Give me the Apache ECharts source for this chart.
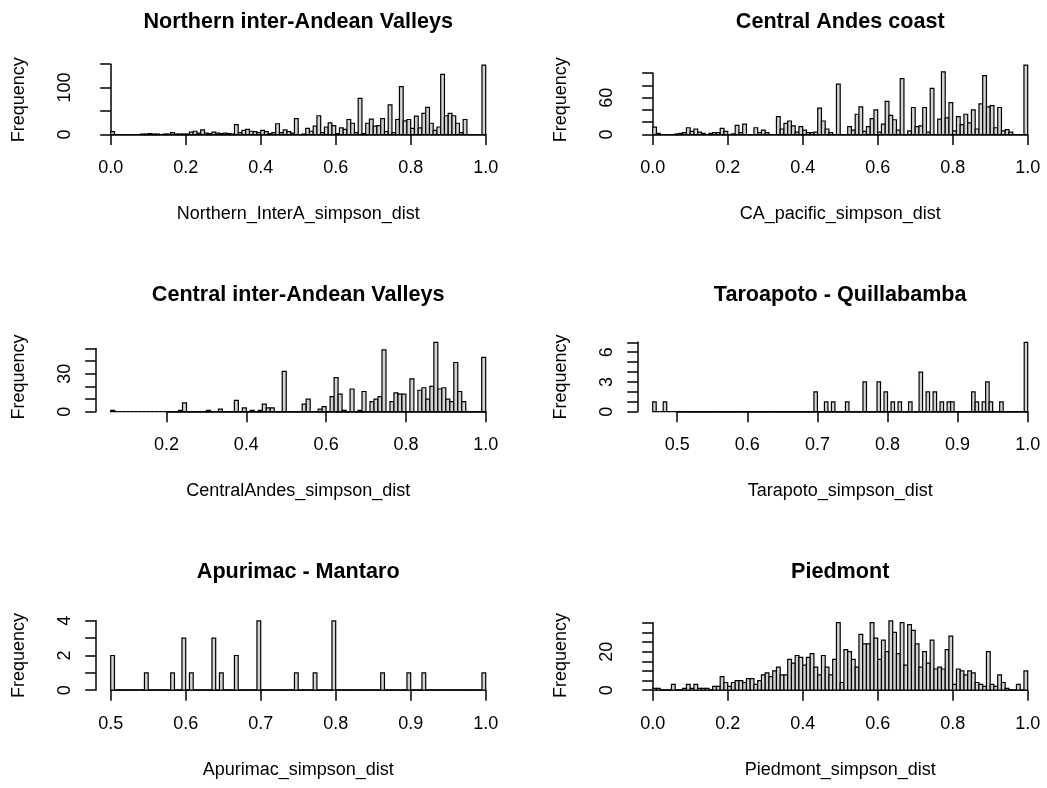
<!DOCTYPE html>
<html>
<head>
<meta charset="utf-8">
<script src="https://cdn.jsdelivr.net/npm/echarts@6/dist/echarts.min.js"></script>
<style>
  html, body { margin: 0; padding: 0; background: #ffffff; }
  #chart { width: 1047px; height: 788px; }
</style>
</head>
<body>
<div id="chart"></div>
<script>
// Histogram counts of Simpson dissimilarity per region (bins of 0.01 unless noted)

// Northern inter-Andean Valleys, bins 0.00 .. 0.99
const northernCounts = [
  6, 0, 0, 0, 0, 0, 0, 0, 1, 1,
  2, 1, 1, 0, 1, 1, 4, 1, 1, 1,
  1, 5, 7, 3, 10, 3, 2, 5, 3, 2,
  3, 2, 1, 21, 4, 9, 11, 7, 6, 4,
  9, 6, 2, 4, 23, 4, 10, 6, 3, 34,
  0, 1, 13, 7, 18, 40, 4, 16, 25, 19,
  2, 14, 11, 32, 24, 4, 77, 2, 24, 33,
  18, 19, 34, 6, 63, 4, 32, 102, 29, 32,
  13, 39, 14, 45, 58, 24, 9, 16, 128, 40,
  45, 40, 24, 4, 32, 0, 0, 0, 0, 148
];

// Central Andes coast, bins 0.00 .. 0.99
const coastCounts = [
  12, 2, 0, 0, 0, 0, 1, 2, 3, 11,
  5, 9, 4, 2, 0, 2, 3, 3, 10, 5,
  0, 1, 15, 3, 17, 0, 0, 11, 3, 7,
  3, 0, 0, 29, 9, 18, 22, 14, 4, 13,
  7, 3, 3, 4, 43, 22, 9, 3, 0, 82,
  0, 0, 13, 7, 33, 45, 5, 13, 26, 40,
  4, 17, 54, 31, 24, 7, 91, 0, 6, 44,
  13, 14, 44, 4, 75, 0, 25, 102, 27, 52,
  6, 29, 16, 33, 19, 40, 9, 50, 96, 45,
  47, 11, 44, 6, 8, 4, 0, 0, 0, 113
];

// Central inter-Andean Valleys, bins 0.06 .. 0.99
const centralCounts = [
  1,
  0, 0, 0, 0, 0, 0, 0, 0, 0, 0, 0, 0, 0, 0, 0, 0,
  1, 7,
  0, 0, 0, 0, 0,
  1, 0, 0, 2, 0, 0, 0, 9, 0, 3,
  0, 1, 0, 1, 6, 3, 3, 0, 0, 32,
  0, 0, 0, 0, 6, 10, 0, 0, 2, 4,
  0, 12, 27, 14, 1, 0, 18, 0, 1, 16,
  0, 8, 10, 12, 49, 0, 8, 15, 14, 14,
  0, 26, 0, 17, 19, 10, 20, 55, 18, 19,
  10, 8, 39, 16, 8, 0, 0, 0, 0, 43
];

// Taroapoto - Quillabamba, bins of 0.005 from 0.465 (non-empty bins only)
const tarapotoBinStarts = [0.465, 0.48, 0.695, 0.71, 0.72, 0.74, 0.765, 0.785, 0.795, 0.805,
  0.815, 0.83, 0.845, 0.855, 0.865, 0.875, 0.885, 0.89, 0.92, 0.925,
  0.935, 0.94, 0.945, 0.96, 0.995];
const tarapotoBinCounts = [1, 1, 2, 1, 1, 1, 3, 3, 2, 1,
  1, 1, 4, 2, 2, 1, 1, 1, 2, 1,
  1, 3, 1, 1, 7];

// Apurimac - Mantaro, bins of 0.005 from 0.5 (non-empty bins only)
const apurimacBinStarts = [0.5, 0.545, 0.58, 0.595, 0.605, 0.635, 0.645, 0.665, 0.695, 0.745,
  0.77, 0.795, 0.86, 0.895, 0.915, 0.995];
const apurimacBinCounts = [2, 1, 1, 3, 1, 3, 1, 2, 4, 1,
  1, 4, 1, 1, 1, 1];

// Piedmont, bins 0.00 .. 0.99
const piedmontCounts = [
  1, 1, 0, 0, 0, 3, 0, 0, 1, 3,
  1, 3, 1, 1, 1, 0, 2, 2, 7, 4,
  2, 4, 5, 5, 4, 6, 6, 3, 5, 8,
  9, 7, 10, 12, 8, 8, 16, 14, 18, 17,
  13, 17, 19, 12, 8, 18, 12, 8, 16, 35,
  4, 21, 20, 16, 12, 29, 24, 24, 35, 27,
  16, 26, 20, 36, 30, 19, 35, 13, 34, 31,
  24, 12, 20, 14, 26, 11, 12, 11, 21, 28,
  3, 11, 10, 8, 10, 9, 4, 3, 2, 20,
  3, 2, 8, 4, 1, 0, 0, 3, 0, 10
];

// Expand a sparse list of bins into a full run of bins
function fillBins(start, width, n, starts, counts) {
  const out = [];
  for (let i = 0; i < n; i++) {
    const s = start + i * width;
    const j = starts.findIndex(v => Math.abs(v - s) < width / 2);
    out.push(j >= 0 ? counts[j] : 0);
  }
  return out;
}

const FONT = '"Liberation Sans", Arial, Helvetica, sans-serif';

const panels = [
  { title: 'Northern inter-Andean Valleys', xlab: 'Northern_InterA_simpson_dist',
    counts: northernCounts, binStart: 0, binWidth: 0.01,
    xTicks: [0, 1, 0.2], yTicks: [0, 150, 50], yShown: [0, 100], col: 0, row: 0 },
  { title: 'Central Andes coast', xlab: 'CA_pacific_simpson_dist',
    counts: coastCounts, binStart: 0, binWidth: 0.01,
    xTicks: [0, 1, 0.2], yTicks: [0, 100, 20], yShown: [0, 60], col: 1, row: 0 },
  { title: 'Central inter-Andean Valleys', xlab: 'CentralAndes_simpson_dist',
    counts: centralCounts, binStart: 0.06, binWidth: 0.01,
    xTicks: [0.2, 1, 0.2], yTicks: [0, 50, 10], yShown: [0, 30], col: 0, row: 1 },
  { title: 'Taroapoto - Quillabamba', xlab: 'Tarapoto_simpson_dist',
    counts: fillBins(0.465, 0.005, 107, tarapotoBinStarts, tarapotoBinCounts),
    binStart: 0.465, binWidth: 0.005,
    xTicks: [0.5, 1, 0.1], yTicks: [0, 7, 1], yShown: [0, 3, 6], col: 1, row: 1 },
  { title: 'Apurimac - Mantaro', xlab: 'Apurimac_simpson_dist',
    counts: fillBins(0.5, 0.005, 100, apurimacBinStarts, apurimacBinCounts),
    binStart: 0.5, binWidth: 0.005,
    xTicks: [0.5, 1, 0.1], yTicks: [0, 4, 1], yShown: [0, 2, 4], col: 0, row: 2 },
  { title: 'Piedmont', xlab: 'Piedmont_simpson_dist',
    counts: piedmontCounts, binStart: 0, binWidth: 0.01,
    xTicks: [0, 1, 0.2], yTicks: [0, 35, 5], yShown: [0, 20], col: 1, row: 2 }
];

// Plot regions (pixels)
const colLeft = [95.7, 637.7];
const plotW = 405;
const rowTop = [62.3, 339.5, 618];
const plotH = 75;
const titleMid = [24, 297, 574];

const grids = [], xAxes = [], yAxes = [], series = [], titles = [];
const axisLine = { show: true, lineStyle: { color: '#000', width: 1.5 } };
const textBase = { color: '#000', fontFamily: FONT, fontSize: 18 };

panels.forEach((p, i) => {
  const n = p.counts.length;
  const x0 = p.binStart, x1 = p.binStart + n * p.binWidth;
  const xr = x1 - x0;
  const ux0 = x0 - 0.04 * xr, ux1 = x1 + 0.04 * xr;
  const ymax = Math.max(...p.counts);
  const uy0 = -0.04 * ymax, uy1 = 1.04 * ymax;
  const L = colLeft[p.col], T = rowTop[p.row];
  const px = v => L + (v - ux0) / (ux1 - ux0) * plotW;
  const py = v => T + (uy1 - v) / (uy1 - uy0) * plotH;

  // plot region holding the bars and axis titles
  grids.push({ left: L, top: T, width: plotW, height: plotH });
  xAxes.push({
    gridIndex: 2 * i, type: 'value', min: ux0, max: ux1,
    axisLine: { show: false }, axisTick: { show: false }, axisLabel: { show: false },
    splitLine: { show: false },
    name: p.xlab, nameLocation: 'middle', nameGap: 68, nameTextStyle: textBase
  });
  yAxes.push({
    gridIndex: 2 * i, type: 'value', min: uy0, max: uy1,
    axisLine: { show: false }, axisTick: { show: false }, axisLabel: { show: false },
    splitLine: { show: false },
    name: 'Frequency', nameLocation: 'middle', nameGap: 68, nameTextStyle: textBase
  });

  // axes spanning first to last tick only, pushed out to the plot region edges
  const gl = px(p.xTicks[0]), gr = px(p.xTicks[1]);
  const gt = py(p.yTicks[1]), gb = py(p.yTicks[0]);
  grids.push({ left: gl, top: gt, width: gr - gl, height: gb - gt });
  xAxes.push({
    gridIndex: 2 * i + 1, type: 'value', position: 'bottom',
    min: p.xTicks[0], max: p.xTicks[1], interval: p.xTicks[2],
    offset: (T + plotH) - gb,
    axisLine: axisLine,
    axisTick: { show: true, inside: false, length: 10.5, lineStyle: { color: '#000', width: 1.5 } },
    axisLabel: Object.assign({ margin: 22, formatter: v => v.toFixed(1), showMinLabel: true, showMaxLabel: true }, textBase),
    splitLine: { show: false }
  });
  yAxes.push({
    gridIndex: 2 * i + 1, type: 'value', position: 'left',
    min: p.yTicks[0], max: p.yTicks[1], interval: p.yTicks[2],
    offset: gl - L,
    axisLine: axisLine,
    axisTick: { show: true, inside: false, length: 10.5, lineStyle: { color: '#000', width: 1.5 } },
    axisLabel: Object.assign({ margin: 22, rotate: 90, showMinLabel: true, showMaxLabel: true,
      formatter: v => (p.yShown.indexOf(Math.round(v)) >= 0 ? String(Math.round(v)) : '') }, textBase),
    splitLine: { show: false }
  });

  // one rectangle per bin: [left edge, right edge, count]
  const bins = p.counts.map((c, k) => [x0 + k * p.binWidth, x0 + (k + 1) * p.binWidth, c]);
  series.push({
    type: 'custom', xAxisIndex: 2 * i, yAxisIndex: 2 * i,
    data: bins, encode: { x: [0, 1], y: 2 }, silent: true, animation: false, clip: false,
    renderItem: (params, api) => {
      const a = api.coord([api.value(0), api.value(2)]);
      const b = api.coord([api.value(1), 0]);
      return {
        type: 'rect',
        shape: { x: a[0], y: a[1], width: b[0] - a[0], height: b[1] - a[1] },
        style: { fill: '#d3d3d3', stroke: '#000', lineWidth: 1.2 }
      };
    }
  });

  titles.push({
    text: p.title, left: L + plotW / 2, top: titleMid[p.row] - 13, textAlign: 'center', padding: 0,
    textStyle: { color: '#000', fontFamily: FONT, fontSize: 21.6, fontWeight: 'bold' }
  });
});

const chart = echarts.init(document.getElementById('chart'), null, { renderer: 'canvas' });
chart.setOption({
  backgroundColor: '#ffffff',
  animation: false,
  title: titles,
  grid: grids,
  xAxis: xAxes,
  yAxis: yAxes,
  series: series
});
</script>
</body>
</html>
